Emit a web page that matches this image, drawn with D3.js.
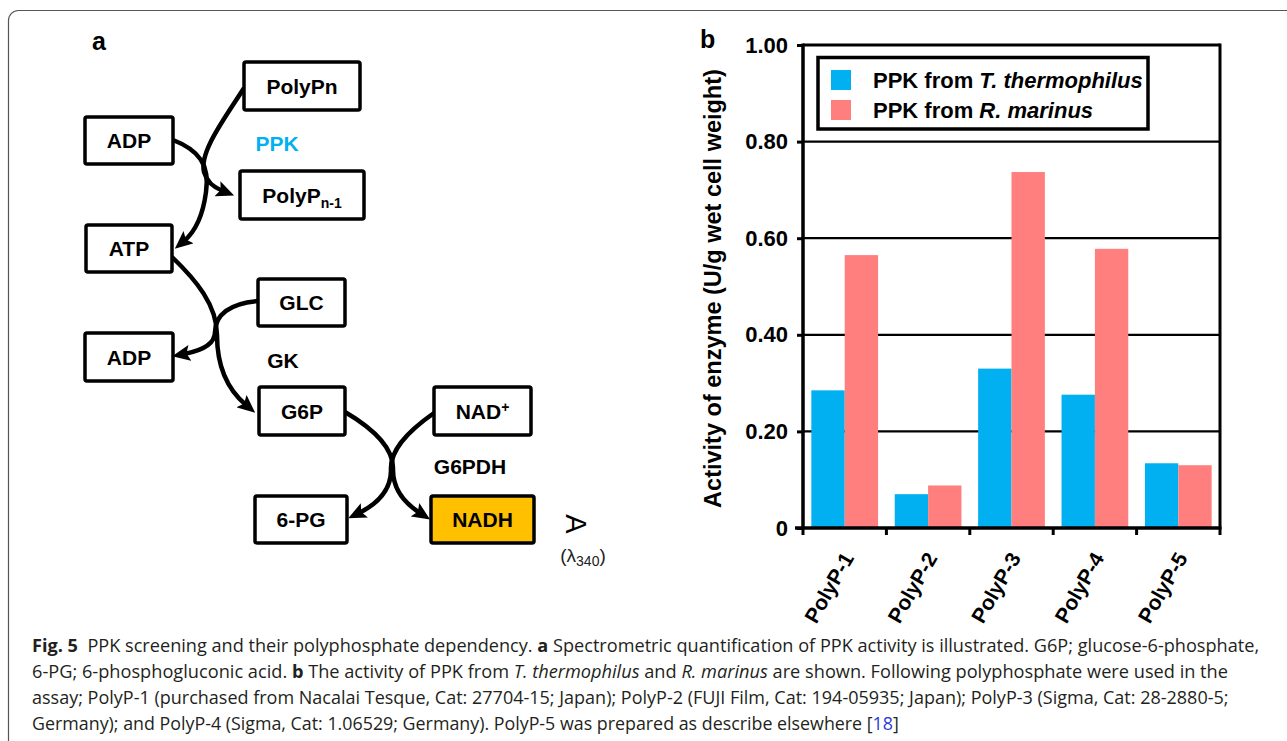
<!DOCTYPE html>
<html>
<head>
<meta charset="utf-8">
<script src="https://cdn.jsdelivr.net/npm/d3@7"></script>
<style>
  body { margin: 0; background: #fff; }
  svg { display: block; }
  text { white-space: pre; }
</style>
</head>
<body>
<div id="app"></div>
<script>
// chart values (panel b)
const categories = ["PolyP-1", "PolyP-2", "PolyP-3", "PolyP-4", "PolyP-5"];
const seriesNames = ["T. thermophilus", "R. marinus"];
const thermophilus = [0.285, 0.070, 0.330, 0.276, 0.134];
const marinus = [0.565, 0.088, 0.737, 0.578, 0.130];
const yTicks = [0, 0.2, 0.4, 0.6, 0.8, 1.0];
const yTitle = "Activity of enzyme (U/g wet cell weight)";

// scheme nodes (panel a)
const nodes = ["PolyPn", "ADP", "PolyPn-1", "ATP", "GLC", "ADP", "G6P", "NAD+", "6-PG", "NADH"];
const enzymes = ["PPK", "GK", "G6PDH"];

const W = 1287, H = 741;
const font = "'Liberation Sans', Arial, sans-serif";

const svg = d3.select("#app")
  .append("svg")
  .attr("width", W)
  .attr("height", H);

// outer frame
svg.append("rect")
  .attr("x", 8.5).attr("y", 10.5)
  .attr("width", 1300).attr("height", 760)
  .attr("rx", 10)
  .attr("fill", "none")
  .attr("stroke", "#555")
  .attr("stroke-width", 1.2);

// ---------- panel a ----------
const ga = svg.append("g").attr("font-family", font).attr("font-weight", "bold");

ga.append("text").attr("x", 92).attr("y", 50).attr("font-size", 25).text("a");

const boxes = [
  {x: 244, y: 62, w: 116, h: 48},
  {x: 85, y: 117, w: 88, h: 47},
  {x: 240, y: 171, w: 124, h: 48},
  {x: 86, y: 225, w: 86, h: 47},
  {x: 258, y: 279, w: 87, h: 47},
  {x: 85, y: 333, w: 88, h: 48},
  {x: 259, y: 387, w: 86, h: 48},
  {x: 434, y: 387, w: 97, h: 48},
  {x: 255, y: 496, w: 92, h: 47},
  {x: 431, y: 496, w: 103, h: 47}
];

const defs = svg.append("defs");
defs.append("marker")
  .attr("id", "head")
  .attr("viewBox", "0 0 18 16")
  .attr("refX", 6).attr("refY", 8)
  .attr("markerWidth", 18).attr("markerHeight", 16)
  .attr("markerUnits", "userSpaceOnUse")
  .attr("orient", "auto")
  .append("path")
  .attr("d", "M0,0 L18,8 L0,16 L3.5,8 Z")
  .attr("fill", "#000");

const arrows = [
  "M244,88 C225,118 199,152 204,172 C207,182 213,187 223,191",
  "M173,140 C199,150 210,165 206,192 C203,215 196,231 184,241",
  "M172,257 C196,280 217,305 217,335 C217,365 227,389 246,405",
  "M258,301 C230,303 215,315 215,332 C215,345 200,351 184,354",
  "M345,412 C379,432 394,452 393,470 C393,490 406,504 420,513",
  "M434,413 C404,434 390,452 391,470 C391,490 377,504 359,513"
];

ga.selectAll("path.arrow").data(arrows).enter()
  .append("path")
  .attr("class", "arrow")
  .attr("d", d => d)
  .attr("fill", "none")
  .attr("stroke", "#000")
  .attr("stroke-width", 4.5)
  .attr("marker-end", "url(#head)");

const nodeG = ga.selectAll("g.node").data(nodes).enter()
  .append("g").attr("class", "node");

nodeG.append("rect")
  .attr("x", (d, i) => boxes[i].x)
  .attr("y", (d, i) => boxes[i].y)
  .attr("width", (d, i) => boxes[i].w)
  .attr("height", (d, i) => boxes[i].h)
  .attr("rx", 2)
  .attr("fill", d => d === "NADH" ? "#FFC000" : "#fff")
  .attr("stroke", "#000")
  .attr("stroke-width", 3.5);

nodeG.append("text")
  .attr("x", (d, i) => boxes[i].x + boxes[i].w / 2)
  .attr("y", (d, i) => boxes[i].y + boxes[i].h / 2 + 7.5)
  .attr("text-anchor", "middle")
  .attr("font-size", 21)
  .each(function(d) {
    const t = d3.select(this);
    if (d === "PolyPn-1") {
      t.append("tspan").text("PolyP");
      t.append("tspan").attr("font-size", 14).attr("dy", 5).text("n-1");
    } else if (d === "NAD+") {
      t.append("tspan").text("NAD");
      t.append("tspan").attr("font-size", 14).attr("dy", -7).text("+");
    } else {
      t.text(d);
    }
  });

const enzPos = [[277, 143], [283, 360], [470, 466]];
ga.selectAll("text.enz").data(enzymes).enter()
  .append("text")
  .attr("class", "enz")
  .attr("x", (d, i) => enzPos[i][0])
  .attr("y", (d, i) => enzPos[i][1] + 7.5)
  .attr("text-anchor", "middle")
  .attr("font-size", 21)
  .attr("fill", d => d === "PPK" ? "#00B0F0" : "#000")
  .text(d => d);

// eye + wavelength
ga.append("text")
  .attr("transform", "translate(566,524) rotate(90)")
  .attr("text-anchor", "middle")
  .attr("font-weight", "normal")
  .attr("font-size", 29)
  .text("A");
const lam = ga.append("text")
  .attr("x", 583).attr("y", 562)
  .attr("text-anchor", "middle")
  .attr("font-weight", "normal")
  .attr("font-size", 19)
  .attr("fill", "#222");
lam.append("tspan").text("(λ");
lam.append("tspan").attr("font-size", 14).attr("dy", 4).text("340");
lam.append("tspan").attr("dy", -4).text(")");

// ---------- panel b ----------
const plot = {left: 803, right: 1220, top: 45, bottom: 528};
const gb = svg.append("g").attr("font-family", font).attr("font-weight", "bold");

gb.append("text").attr("x", 700).attr("y", 48).attr("font-size", 25).text("b");

const x = d3.scaleBand()
  .domain(categories)
  .range([plot.left, plot.right])
  .paddingInner(0.2)
  .paddingOuter(0.1);

const xs = d3.scaleBand()
  .domain(seriesNames)
  .range([0, x.bandwidth()]);

const y = d3.scaleLinear()
  .domain([0, 1])
  .range([plot.bottom, plot.top]);

// gridlines
gb.selectAll("line.grid").data(yTicks.filter(v => v > 0)).enter()
  .append("line")
  .attr("class", "grid")
  .attr("x1", plot.left).attr("x2", plot.right)
  .attr("y1", d => y(d)).attr("y2", d => y(d))
  .attr("stroke", "#000")
  .attr("stroke-width", d => d === 1 ? 3 : 2.2);

// bars
const colors = {"T. thermophilus": "#00B0F0", "R. marinus": "#FF7F7F"};
const groups = gb.selectAll("g.cat").data(categories).enter()
  .append("g")
  .attr("class", "cat")
  .attr("transform", d => `translate(${x(d)},0)`);

groups.selectAll("rect").data((d, i) => [
  {s: seriesNames[0], v: thermophilus[i]},
  {s: seriesNames[1], v: marinus[i]}
]).enter()
  .append("rect")
  .attr("x", d => xs(d.s))
  .attr("width", xs.bandwidth())
  .attr("y", d => y(d.v))
  .attr("height", d => y(0) - y(d.v))
  .attr("fill", d => colors[d.s]);

// right frame
gb.append("line")
  .attr("x1", plot.right).attr("x2", plot.right)
  .attr("y1", plot.top - 1.5).attr("y2", plot.bottom)
  .attr("stroke", "#000").attr("stroke-width", 3);

// y axis
const yAxis = gb.append("g")
  .attr("transform", `translate(${plot.left},0)`)
  .call(d3.axisLeft(y)
    .tickValues(yTicks)
    .tickSize(6)
    .tickPadding(9)
    .tickFormat(d => d === 0 ? "0" : d.toFixed(2)));
yAxis.select(".domain").attr("stroke-width", 3.5).attr("d", `M0,${plot.top - 1.5}V${plot.bottom}`);
yAxis.selectAll(".tick line").attr("stroke-width", 3);
yAxis.selectAll(".tick text")
  .attr("font-family", font)
  .attr("font-weight", "bold")
  .attr("font-size", 22)
  .attr("fill", "#000");

// x axis with ticks at category boundaries
const bounds = d3.range(categories.length + 1).map(i => plot.left + i * x.step());
gb.append("line")
  .attr("x1", plot.left - 8).attr("x2", plot.right + 1.5)
  .attr("y1", plot.bottom).attr("y2", plot.bottom)
  .attr("stroke", "#000").attr("stroke-width", 3.5);
gb.selectAll("line.xtick").data(bounds).enter()
  .append("line")
  .attr("class", "xtick")
  .attr("x1", d => d).attr("x2", d => d)
  .attr("y1", plot.bottom).attr("y2", plot.bottom + 7)
  .attr("stroke", "#000").attr("stroke-width", 3);

gb.selectAll("text.xlab").data(categories).enter()
  .append("text")
  .attr("class", "xlab")
  .attr("transform", d => `translate(${x(d) + x.bandwidth() / 2 + 10},558) rotate(-60)`)
  .attr("text-anchor", "end")
  .attr("font-size", 21)
  .text(d => d);

// y title
gb.append("text")
  .attr("transform", `translate(721,${(plot.top + plot.bottom) / 2 + 2}) rotate(-90)`)
  .attr("text-anchor", "middle")
  .attr("font-size", 23.5)
  .text(yTitle);

// legend
const lg = gb.append("g");
lg.append("rect")
  .attr("x", 818).attr("y", 57.5)
  .attr("width", 330).attr("height", 71.5)
  .attr("fill", "#fff")
  .attr("stroke", "#000").attr("stroke-width", 3.5);
const items = lg.selectAll("g.item").data(seriesNames).enter()
  .append("g")
  .attr("class", "item")
  .attr("transform", (d, i) => `translate(831,${70 + i * 30})`);
items.append("rect")
  .attr("width", 20).attr("height", 20)
  .attr("fill", d => colors[d]);
const lt = items.append("text")
  .attr("x", 42).attr("y", 18)
  .attr("font-size", 22);
lt.append("tspan").text("PPK from ");
lt.append("tspan").attr("font-style", "italic").text(d => d);

// ---------- caption ----------
const captionLines = [
  [{t: "Fig. 5", b: 1}, {t: "  PPK screening and their polyphosphate dependency. "}, {t: "a", b: 1},
   {t: " Spectrometric quantification of PPK activity is illustrated. G6P; glucose-6-phosphate,"}],
  [{t: "6-PG; 6-phosphogluconic acid. "}, {t: "b", b: 1}, {t: " The activity of PPK from "},
   {t: "T. thermophilus", i: 1}, {t: " and "}, {t: "R. marinus", i: 1},
   {t: " are shown. Following polyphosphate were used in the"}],
  [{t: "assay; PolyP-1 (purchased from Nacalai Tesque, Cat: 27704-15; Japan); PolyP-2 (FUJI Film, Cat: 194-05935; Japan); PolyP-3 (Sigma, Cat: 28-2880-5;"}],
  [{t: "Germany); and PolyP-4 (Sigma, Cat: 1.06529; Germany). PolyP-5 was prepared as describe elsewhere ["},
   {t: "18", c: "#2B3BD9"}, {t: "]"}]
];
const lineEnds = [1260, 1229, 1229, 900];

const cap = svg.append("g")
  .attr("font-family", "'Open Sans', sans-serif")
  .attr("font-size", 17.5)
  .attr("fill", "#231F20");

captionLines.forEach((segs, li) => {
  const t = cap.append("text").attr("x", 0).attr("y", 0);
  segs.forEach(s => {
    const sp = t.append("tspan").text(s.t);
    if (s.b) sp.attr("font-weight", "bold");
    if (s.i) sp.attr("font-style", "italic");
    if (s.c) sp.attr("fill", s.c);
  });
  const natural = t.node().getComputedTextLength();
  const k = (lineEnds[li] - 32) / natural;
  t.attr("transform", `translate(32,${652 + li * 26}) scale(${k},1)`);
});
</script>
</body>
</html>
